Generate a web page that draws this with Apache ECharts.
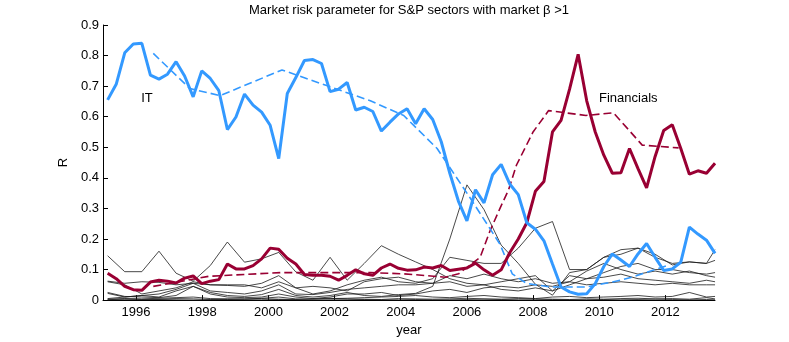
<!DOCTYPE html>
<html>
<head>
<meta charset="utf-8">
<title>Market risk parameter</title>
<script src="https://cdn.jsdelivr.net/npm/echarts@6/dist/echarts.min.js"></script>
<style>
    html, body { margin: 0; padding: 0; background: #fff; }
    #chart { width: 789px; height: 342px; }
</style>
</head>
<body>
<div id="chart"></div>
<script>
// sampling grid of the rolling windows (years)
const firstYear = 1995.14;
const stepYears = 0.2586;
const yearTicks = [1996, 1998, 2000, 2002, 2004, 2006, 2008, 2010, 2012];

// IT sector, R per window
const itValues = [
    .655, .706, .809, .838, .840, .736, .723, .739, .780, .733,
    .665, .750, .725, .685, .558, .599, .674, .638, .615, .572,
    .463, .676, .728, .784, .787, .774, .682, .690, .712, .622,
    .631, .617, .553, .582, .609, .626, .577, .626, .591, .518,
    .415, .324, .259, .361, .318, .410, .444, .380, .345, .253,
    .232, .194, .118, .043, .027, .019, .021, .054, .110, .151,
    .131, .110, .151, .185, .140, .097, .102, .124, .239, .216,
    .196, .153
];

// Financials sector
const finValues = [
    .088, .070, .045, .034, .032, .059, .065, .062, .056, .072,
    .079, .054, .062, .067, .118, .102, .102, .113, .135, .170,
    .166, .137, .118, .084, .081, .081, .078, .065, .081, .099,
    .086, .081, .105, .118, .104, .098, .099, .108, .105, .113,
    .097, .101, .105, .121, .099, .081, .099, .155, .200, .253,
    .356, .388, .550, .588, .690, .804, .652, .550, .474, .415,
    .417, .496, .430, .367, .470, .555, .574, .496, .412, .423,
    .415, .448
];

// dashed trends
const itTrendYears = [1996.52, 1997.63, 1998.54, 2000.41, 2003.08, 2004.09, 2005.10, 2006.10, 2007.00, 2007.37, 2007.80, 2008.50, 2009.60, 2010.40, 2011.00, 2011.60, 2012.06];
const itTrendValues = [.807, .692, .669, .753, .652, .604, .496, .334, .183, .086, .055, .043, .043, .059, .075, .097, .113];
const finTrendYears = [1996.52, 1997.30, 1998.20, 2000.40, 2003.08, 2004.10, 2005.35, 2005.75, 2006.40, 2006.70, 2007.00, 2007.26, 2007.50, 2008.00, 2008.47, 2009.60, 2010.43, 2011.30, 2012.40];
const finTrendValues = [.045, .060, .078, .090, .090, .086, .075, .086, .140, .227, .300, .361, .442, .550, .620, .604, .613, .507, .498];

// other sectors (every second window + last one)
const other1 = [.145, .093, .093, .160, .088, .062, .113, .190, .124, .135, .156, .092, .065, .140, .065, .120, .178, .150, .125, .100, .070, .055, .050, .035, .030, .040, .030, .050, .070, .090, .110, .120, .100, .100, .090, .085, .090];
const other2 = [.025, .012, .010, .008, .015, .045, .025, .015, .012, .018, .035, .015, .010, .015, .025, .015, .012, .018, .022, .045, .200, .377, .296, .180, .120, .052, .016, .090, .100, .140, .150, .170, .140, .120, .125, .120, .130];
const other3 = [.062, .055, .060, .058, .050, .055, .050, .048, .045, .055, .080, .040, .020, .030, .050, .065, .075, .060, .055, .070, .140, .130, .120, .120, .170, .235, .257, .100, .100, .140, .165, .170, .150, .115, .125, .120, .165];
const other4 = [.060, .050, .020, .030, .040, .060, .050, .050, .050, .040, .060, .040, .045, .040, .030, .060, .070, .075, .060, .055, .080, .070, .085, .070, .060, .070, .055, .060, .095, .120, .100, .085, .095, .085, .095, .080, .075];
const other5 = [.022, .010, .015, .020, .035, .055, .030, .025, .020, .030, .050, .020, .018, .025, .035, .040, .045, .050, .050, .055, .060, .045, .050, .060, .070, .080, .030, .080, .070, .075, .085, .070, .065, .060, .055, .065, .060];
const other6 = [.005, .010, .015, .010, .030, .045, .020, .010, .008, .010, .020, .010, .005, .010, .020, .020, .025, .015, .020, .030, .035, .025, .040, .045, .040, .050, .045, .060, .050, .055, .060, .055, .050, .055, .050, .050, .050];
const other7 = [.003, .005, .004, .006, .008, .010, .005, .004, .003, .006, .010, .004, .003, .005, .006, .008, .010, .012, .015, .010, .008, .012, .015, .010, .008, .005, .010, .012, .008, .010, .012, .015, .010, .012, .025, .010, .012];
const other8 = [.001, .004, .002, .003, .005, .004, .002, .003, .004, .005, .003, .002, .004, .006, .004, .003, .002, .005, .004, .003, .004, .006, .004, .003, .005, .004, .003, .002, .004, .003, .005, .006, .004, .005, .003, .008, .004];
const other9 = [.000, .001, .001, .002, .001, .000, .001, .002, .001, .001, .002, .001, .000, .001, .001, .002, .001, .001, .002, .001, .001, .002, .003, .002, .001, .001, .002, .001, .001, .002, .001, .002, .003, .002, .001, .002, .001];

const font = "'Liberation Sans', Arial, Helvetica, sans-serif";
const blue = '#3399ff';
const red = '#990033';

const years = itValues.map((v, i) => +(firstYear + i * stepYears).toFixed(3));
const otherYears = years.filter((y, i) => i % 2 === 0 || i === years.length - 1);

const pair = (xs, ys) => ys.map((v, i) => [xs[i], v]);

const thin = (vals) => ({
    type: 'line',
    data: pair(otherYears, vals),
    showSymbol: false,
    silent: true,
    z: 1,
    lineStyle: {color: '#1a1a1a', width: 0.8}
});

const chart = echarts.init(document.getElementById('chart'), null, {renderer: 'canvas'});

chart.setOption({
    animation: false,
    backgroundColor: '#fff',
    grid: {left: 103, right: 74, top: 25, bottom: 39},
    xAxis: {
        type: 'value',
        min: 1995,
        max: 2013.5,
        name: 'year',
        nameLocation: 'middle',
        nameGap: 20,
        nameTextStyle: {color: '#000', fontSize: 13, fontFamily: font},
        axisLine: {onZero: false, lineStyle: {color: '#000', width: 1}},
        axisTick: {inside: true, length: 5, customValues: yearTicks, lineStyle: {color: '#000'}},
        axisLabel: {
            customValues: yearTicks, color: '#000', fontSize: 13, fontFamily: font, margin: 6,
            formatter: (v) => String(v)
        },
        splitLine: {show: false}
    },
    yAxis: {
        type: 'value',
        min: 0,
        max: 0.9,
        interval: 0.1,
        name: 'R',
        nameLocation: 'middle',
        nameGap: 31,
        nameRotate: 90,
        nameTextStyle: {color: '#000', fontSize: 13, fontFamily: font},
        axisLine: {show: true, lineStyle: {color: '#000', width: 1}},
        axisTick: {show: true, inside: true, length: 5, lineStyle: {color: '#000'}},
        axisLabel: {color: '#000', fontSize: 13, fontFamily: font, margin: 4},
        splitLine: {show: false}
    },
    graphic: [
        {type: 'text', x: 409, y: 10, style: {text: 'Market risk parameter for S&P sectors with market \u03b2 >1', font: '13px ' + font, fill: '#000', textAlign: 'center', textVerticalAlign: 'middle', align: 'center', verticalAlign: 'middle'}},
        {type: 'text', x: 147, y: 98, style: {text: 'IT', font: '13px ' + font, fill: '#000', textAlign: 'center', textVerticalAlign: 'middle', align: 'center', verticalAlign: 'middle'}},
        {type: 'text', x: 599, y: 98, style: {text: 'Financials', font: '13px ' + font, fill: '#000', textAlign: 'left', textVerticalAlign: 'middle', align: 'left', verticalAlign: 'middle'}}
    ],
    series: [
        thin(other1), thin(other2), thin(other3), thin(other4), thin(other5),
        thin(other6), thin(other7), thin(other8), thin(other9),
        {
            type: 'line', data: pair(finTrendYears, finTrendValues), showSymbol: false, z: 2,
            lineStyle: {color: red, width: 1.6, type: [8, 4]}
        },
        {
            type: 'line', data: pair(itTrendYears, itTrendValues), showSymbol: false, z: 2,
            lineStyle: {color: blue, width: 1.6, type: [8, 4]}
        },
        {
            type: 'line', data: pair(years, finValues), showSymbol: false, z: 3,
            lineStyle: {color: red, width: 3}
        },
        {
            type: 'line', data: pair(years, itValues), showSymbol: false, z: 4,
            lineStyle: {color: blue, width: 3}
        }
    ]
});
</script>
</body>
</html>
